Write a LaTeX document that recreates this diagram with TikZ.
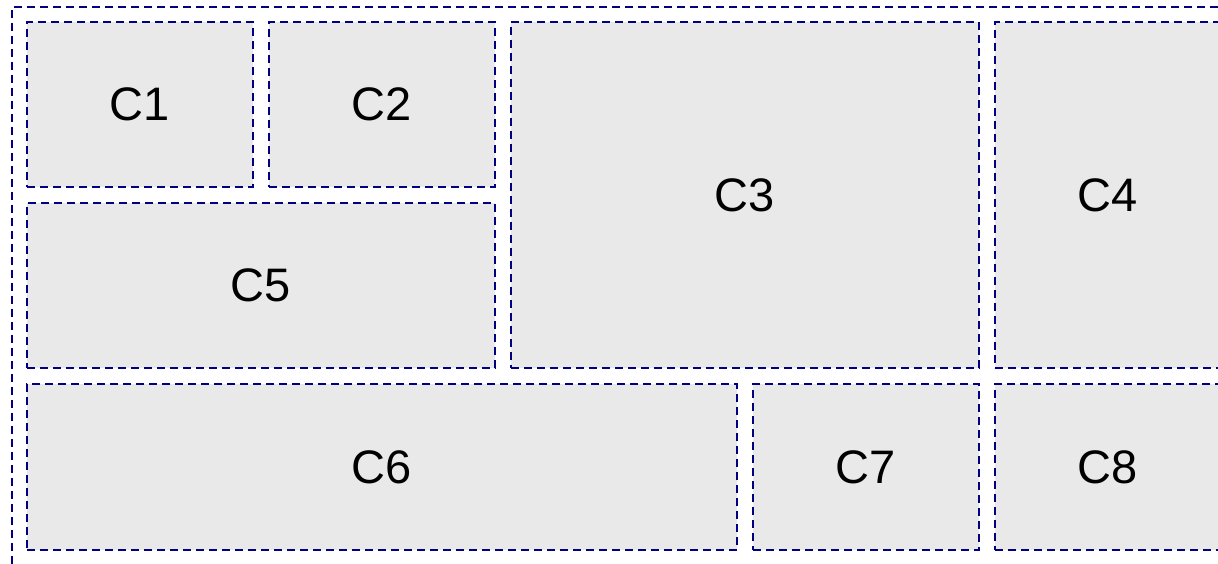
\documentclass[tikz,border=0pt]{standalone}
\usepackage{fontspec}
\setmainfont{Liberation Sans}
\usepackage{xcolor}
\usepackage{tikz}
\usetikzlibrary{backgrounds}
\definecolor{cellfill}{RGB}{233,233,233}
\definecolor{celledge}{RGB}{0,0,128}
\tikzstyle{none}=[inner sep=0mm]
\tikzstyle{gridline}=[draw=celledge,line width=2pt,dash pattern=on 8pt off 5pt]
\tikzstyle{cell}=[gridline,fill=cellfill,shape=rectangle,inner sep=0pt,font=\fontsize{47}{56}\selectfont]
\tikzstyle{small cell}=[cell,minimum width=226pt,minimum height=165pt]

\begin{document}
\begin{tikzpicture}[x=1pt,y=-1pt]
	\useasboundingbox (0, 0) rectangle (1218, 564);
	\clip (0, 0) rectangle (1218, 564);
	\node [style=none, gridline, minimum width=1226pt, minimum height=561pt, anchor=north west] (frame) at (11, 6) {};
	\node [style=small cell] (c1) at (140, 104.5) {C1};
	\node [style=small cell] (c2) at (382, 104.5) {C2};
	\node [style=cell, minimum width=468pt, minimum height=346pt] (c3) at (745, 195) {C3};
	\node [style=cell, minimum width=226pt, minimum height=346pt] (c4) at (1108, 195) {C4};
	\node [style=cell, minimum width=468pt, minimum height=165pt] (c5) at (261, 285.5) {C5};
	\node [style=cell, minimum width=710pt, minimum height=166pt] (c6) at (382, 467) {C6};
	\node [style=small cell, minimum height=166pt] (c7) at (866, 467) {C7};
	\node [style=small cell, minimum height=166pt] (c8) at (1108, 467) {C8};
\end{tikzpicture}
\end{document}
